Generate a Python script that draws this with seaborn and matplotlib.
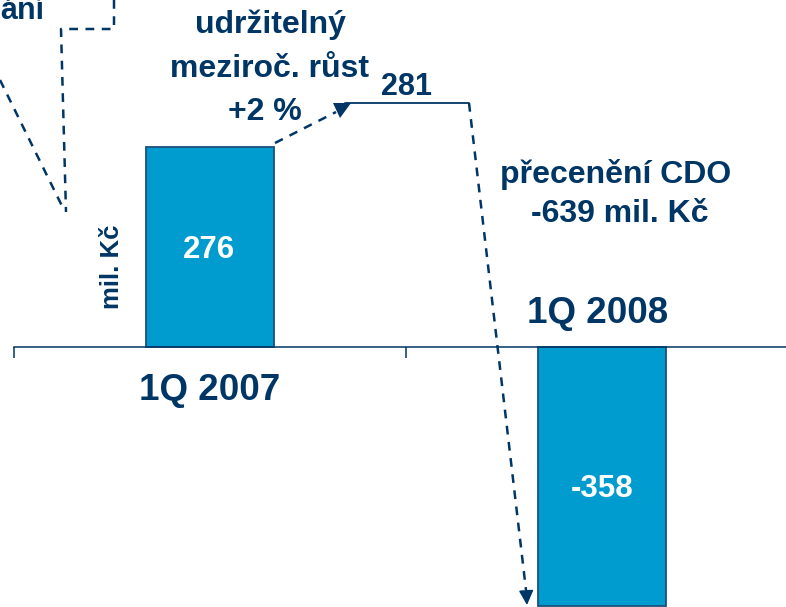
import matplotlib
matplotlib.use("Agg")
import matplotlib.pyplot as plt
import seaborn as sns

# data
quarters = ["1Q 2007", "1Q 2008"]
profit = [276, -358]
sustainable_level = 281
growth_label = "+2 %"
cdo_label = "-639 mil. Kč"

navy = "#003665"
blue = "#009CD0"

sns.set_style("white")
plt.rcParams["font.family"] = ["Liberation Sans", "DejaVu Sans"]
plt.rcParams["font.weight"] = "bold"

W, H = 786, 607
fig = plt.figure(figsize=(W / 100, H / 100), dpi=100)
ax = fig.add_axes([0, 0, 1, 1])

sns.barplot(x=quarters, y=profit, width=0.326, color=blue, saturation=1,
            edgecolor="#1d4f7a", linewidth=1.3, ax=ax)

# axis line through zero with ticks between categories
for s in ["left", "right", "top"]:
    ax.spines[s].set_visible(False)
ax.spines["bottom"].set_position(("data", 0))
ax.spines["bottom"].set_color(navy)
ax.spines["bottom"].set_linewidth(1.1)
ax.set_xticks([-0.5, 0.5, 1.5])
ax.set_xticklabels([])
ax.set_yticks([])
ax.tick_params(axis="x", direction="out", length=8, width=1.1, color=navy, bottom=True)
ax.set_xlabel("")
ax.set_ylabel("")


def px(x, y):
    return x / W, 1 - y / H


tr = ax.transAxes

# bar values
ax.text(*px(209, 258), str(profit[0]), transform=tr, ha="center",
        va="baseline", color="white", fontsize=22.5)
ax.text(*px(602, 497), str(profit[1]), transform=tr, ha="center",
        va="baseline", color="white", fontsize=22.5)

# category labels
ax.text(*px(210, 400), quarters[0], transform=tr, ha="center", va="baseline",
        color=navy, fontsize=26.5)
ax.text(*px(598, 323), quarters[1], transform=tr, ha="center", va="baseline",
        color=navy, fontsize=26.5)

# annotations
big = 23
ax.text(*px(44, 19), "ání", transform=tr, ha="right", va="baseline", color=navy, fontsize=22)
ax.text(*px(270, 33), "udržitelný", transform=tr, ha="center", va="baseline", color=navy, fontsize=big)
ax.text(*px(270, 77), "meziroč. růst", transform=tr, ha="center", va="baseline", color=navy, fontsize=big)
ax.text(*px(265, 120), growth_label, transform=tr, ha="center", va="baseline", color=navy, fontsize=big)
ax.text(*px(407, 95), str(sustainable_level), transform=tr, ha="center", va="baseline", color=navy, fontsize=22)
ax.text(*px(616, 183), "přecenění CDO", transform=tr, ha="center", va="baseline", color=navy, fontsize=big)
ax.text(*px(620, 222), cdo_label, transform=tr, ha="center", va="baseline", color=navy, fontsize=big)
ax.text(*px(112, 267), "mil. Kč", transform=tr, ha="center", va="center", rotation=90,
        color=navy, fontsize=18.5)

dash = dict(color=navy, lw=1.8, linestyle=(0, (3.5, 3)), transform=tr, clip_on=False)


def dashed(points):
    xs, ys = zip(*[px(x, y) for x, y in points])
    ax.plot(xs, ys, scalex=False, scaley=False, **dash)


def head(p0, p1):
    ax.annotate("", xy=px(*p1), xytext=px(*p0), xycoords=tr, textcoords=tr,
                arrowprops=dict(arrowstyle="-|>", color=navy, lw=1.2, mutation_scale=22,
                                shrinkA=0, shrinkB=0))


dashed([(114, 0), (114, 29), (61, 29), (66, 212)])
dashed([(0, 80), (64, 210)])

# growth arrow into the 281 bracket
dashed([(275, 143), (336, 112)])
tri = [px(333, 103), px(351, 103), px(340, 118)]
ax.fill([p[0] for p in tri], [p[1] for p in tri], color=navy, transform=tr, lw=0)

xs, ys = zip(*[px(345, 103), px(469, 103)])
ax.plot(xs, ys, color=navy, lw=1.3, transform=tr, scalex=False, scaley=False)
dashed([(469, 103), (526, 590)])
head((526, 588), (527, 605))

ax.set_xlim(-0.5356, 1.468)
ax.set_ylim(-358.8, 478.9)
ax.spines["bottom"].set_bounds(-0.5, 1.468)

fig.savefig("out.png", dpi=100)
